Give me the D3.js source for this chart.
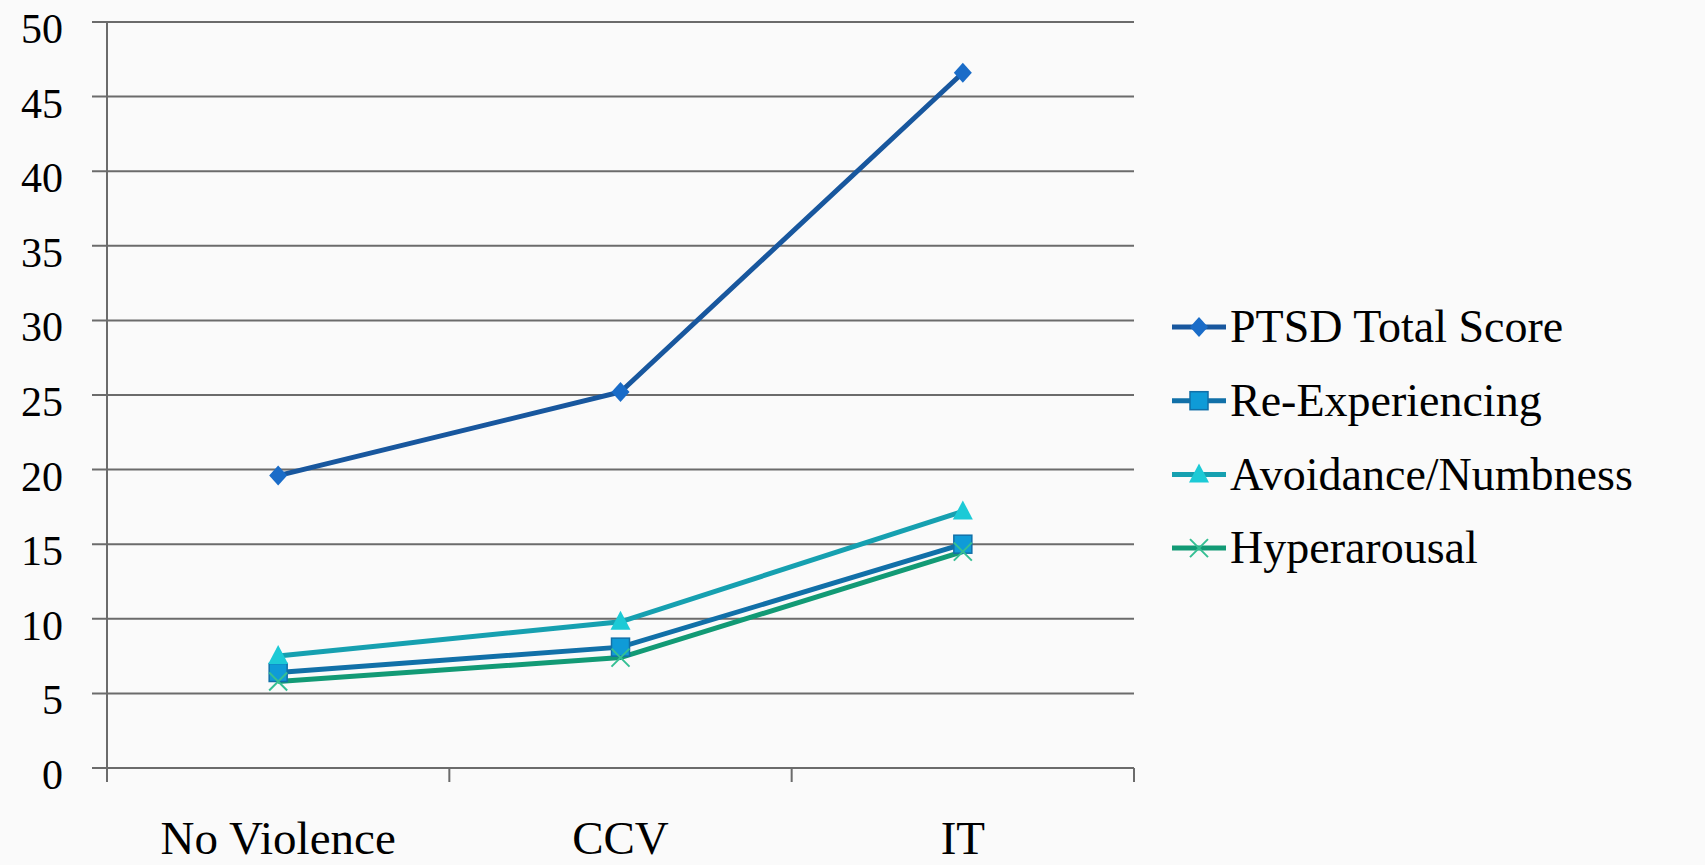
<!DOCTYPE html>
<html>
<head>
<meta charset="utf-8">
<script src="https://cdn.jsdelivr.net/npm/d3@7"></script>
<style>
  body { margin: 0; background: #fafafa; }
  svg { display: block; }
  text { font-family: "Liberation Serif", "DejaVu Serif", serif; fill: #000; }
</style>
</head>
<body>
<div id="chart"></div>
<script>
// categories and values
var categories = ["No Violence", "CCV", "IT"];
var seriesNames = ["PTSD Total Score", "Re-Experiencing", "Avoidance/Numbness", "Hyperarousal"];
var ptsdTotal = [19.6, 25.2, 46.6];
var reExperiencing = [6.4, 8.1, 15.0];
var avoidance = [7.5, 9.8, 17.2];
var hyperarousal = [5.8, 7.4, 14.5];
var yTicks = [0, 5, 10, 15, 20, 25, 30, 35, 40, 45, 50];

var W = 1705, H = 865;
var margin = { top: 22, left: 107, right: 571, bottom: 97 };
var width = W - margin.left - margin.right,
    height = H - margin.top - margin.bottom;

var series = [
  { name: seriesNames[0], values: ptsdTotal, line: "#18579e", fill: "#1a6cc8", shape: "diamond" },
  { name: seriesNames[1], values: reExperiencing, line: "#1170a8", fill: "#0f9bd7", shape: "square" },
  { name: seriesNames[2], values: avoidance, line: "#16a0b0", fill: "#1ccad6", shape: "triangle" },
  { name: seriesNames[3], values: hyperarousal, line: "#129a75", fill: "#35bf93", shape: "x" }
];

var svg = d3.select("#chart").append("svg")
    .attr("width", W)
    .attr("height", H);

var g = svg.append("g")
    .attr("transform", "translate(" + margin.left + "," + margin.top + ")");

var x = d3.scaleBand().domain(categories).range([0, width]);
var y = d3.scaleLinear().domain([0, 50]).range([height, 0]);

// gridlines with the small ticks to the left
g.selectAll(".grid").data(yTicks).enter().append("line")
    .attr("x1", -15).attr("x2", width)
    .attr("y1", function (d) { return y(d); })
    .attr("y2", function (d) { return y(d); })
    .attr("stroke", "#6b6b6b").attr("stroke-width", 2);

// y labels
g.selectAll(".ylab").data(yTicks).enter().append("text")
    .attr("x", -44).attr("y", function (d) { return y(d); })
    .attr("dy", "0.5em")
    .attr("text-anchor", "end")
    .style("font-size", "42px")
    .text(function (d) { return d; });

// y axis line
g.append("line")
    .attr("x1", 0).attr("x2", 0).attr("y1", 0).attr("y2", height + 14)
    .attr("stroke", "#6b6b6b").attr("stroke-width", 2);

// category boundary ticks
var bounds = categories.map(function (c) { return x(c) + x.bandwidth(); });
g.selectAll(".xt").data(bounds).enter().append("line")
    .attr("x1", function (d) { return d; }).attr("x2", function (d) { return d; })
    .attr("y1", height).attr("y2", height + 14)
    .attr("stroke", "#6b6b6b").attr("stroke-width", 2);

// x labels
g.selectAll(".xlab").data(categories).enter().append("text")
    .attr("x", function (d) { return x(d) + x.bandwidth() / 2; })
    .attr("y", height + 86)
    .attr("text-anchor", "middle")
    .style("font-size", "47px")
    .text(function (d) { return d; });

var line = d3.line()
    .x(function (d, i) { return x(categories[i]) + x.bandwidth() / 2; })
    .y(function (d) { return y(d); });

function drawMarker(sel, s, cx, cy) {
  var m = sel.append("g").attr("transform", "translate(" + cx + "," + cy + ")");
  if (s.shape === "diamond") {
    m.append("path").attr("d", "M0,-10L9,0L0,10L-9,0Z").attr("fill", s.fill);
  } else if (s.shape === "square") {
    m.append("rect").attr("x", -9).attr("y", -9).attr("width", 18).attr("height", 18)
      .attr("fill", s.fill).attr("stroke", s.line).attr("stroke-width", 1.5);
  } else if (s.shape === "triangle") {
    m.append("path").attr("d", "M0,-11L10,8L-10,8Z").attr("fill", s.fill);
  } else {
    m.append("path").attr("d", "M-9,-9L9,9M-9,9L9,-9")
      .attr("stroke", s.fill).attr("stroke-width", 2);
  }
}

// draw lines then markers (later series on top)
series.forEach(function (s) {
  g.append("path")
      .datum(s.values)
      .attr("fill", "none")
      .attr("stroke", s.line)
      .attr("stroke-width", 5)
      .attr("d", line);
});
series.forEach(function (s) {
  s.values.forEach(function (v, i) {
    drawMarker(g, s, x(categories[i]) + x.bandwidth() / 2, y(v));
  });
});

// legend
var legend = svg.append("g").attr("transform", "translate(1172,327)");
series.forEach(function (s, i) {
  var row = legend.append("g").attr("transform", "translate(0," + (i * 73.7) + ")");
  row.append("line").attr("x1", 0).attr("x2", 54).attr("y1", 0).attr("y2", 0)
      .attr("stroke", s.line).attr("stroke-width", 5);
  drawMarker(row, s, 27, 0);
  row.append("text").attr("x", 58).attr("y", 0).attr("dy", "0.33em")
      .style("font-size", "46px")
      .text(s.name);
});
</script>
</body>
</html>
